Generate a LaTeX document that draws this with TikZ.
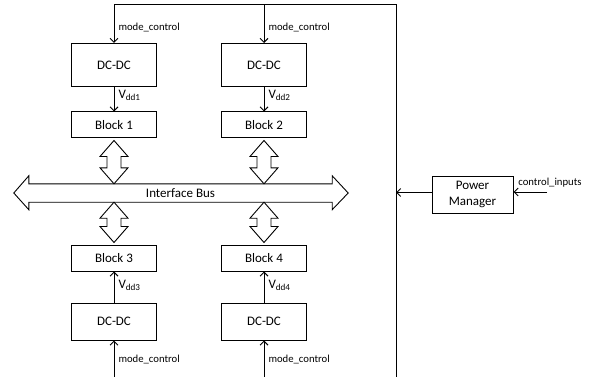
\documentclass[tikz,border=0pt]{standalone}
\usepackage{fontspec}
\setmainfont{Carlito}
\usetikzlibrary{calc,
	positioning,
	arrows,
	arrows.meta}
\tikzstyle{dcbox}=[draw, line width=1pt, minimum width=85pt, minimum height=43pt, inner sep=0, font=\fontsize{13}{15.5}\selectfont]
\tikzstyle{blkbox}=[draw, line width=1pt, minimum width=85pt, minimum height=26pt, inner sep=0, font=\fontsize{13}{15.5}\selectfont]
\tikzstyle{pmbox}=[draw, line width=1pt, minimum width=81pt, minimum height=37pt, inner sep=0, align=center, font=\fontsize{13}{15.5}\selectfont]
\tikzstyle{busbox}=[minimum width=303pt, minimum height=18pt, inner sep=0, font=\fontsize{13}{15.5}\selectfont]
\tikzstyle{wire}=[line width=1pt]
\tikzstyle{sig}=[line width=1pt, -{Straight Barb[length=4pt,width=8pt]}]
\tikzstyle{busline}=[line width=0.9pt, line join=miter]
\tikzstyle{lbl}=[inner sep=4pt, font=\fontsize{10.7}{12}\selectfont]
\tikzstyle{vdd}=[inner sep=4pt, font=\fontsize{13}{15}\selectfont]

\newcommand{\vdarrow}[2]{%
	\draw[busline] (#1) -- ($(#1)+(14pt,-16pt)$) -- ($(#1)+(7pt,-16pt)$)
		-- ($(#2)+(7pt,16pt)$) -- ($(#2)+(14pt,16pt)$) -- (#2)
		-- ($(#2)+(-14pt,16pt)$) -- ($(#2)+(-7pt,16pt)$)
		-- ($(#1)+(-7pt,-16pt)$) -- ($(#1)+(-14pt,-16pt)$) -- cycle;}

\begin{document}
\begin{tikzpicture}[x=1pt, y=-1pt]
	\useasboundingbox (0,0) rectangle (597,377);

	% converters and blocks
	\node[dcbox] (dc1) at (114,65) {DC-DC};
	\node[dcbox] (dc2) at (264,65) {DC-DC};
	\node[blkbox] (blk1) at (114,125) {Block 1};
	\node[blkbox] (blk2) at (264,125) {Block 2};
	\node[blkbox] (blk3) at (114,258) {Block 3};
	\node[blkbox] (blk4) at (264,258) {Block 4};
	\node[dcbox, minimum height=37pt] (dc3) at (114,321.5) {DC-DC};
	\node[dcbox, minimum height=37pt] (dc4) at (264,321.5) {DC-DC};
	\node[pmbox] (pm) at (472.5,194.5) {Power\\Manager};

	% interface bus
	\node[busbox] (bus) at (180.5,193) {Interface Bus};
	\draw[busline] (bus.north west) -- (bus.north east) -- ([yshift=8pt]bus.north east)
		-- ([xshift=16pt]bus.east) -- ([yshift=-7.5pt]bus.south east) -- (bus.south east)
		-- (bus.south west) -- ([yshift=-7.5pt]bus.south west) -- ([xshift=-15pt]bus.west)
		-- ([yshift=8pt]bus.north west) -- cycle;

	\coordinate (t1) at ([yshift=-2pt]blk1.south);
	\coordinate (t2) at ([yshift=-2pt]blk2.south);
	\coordinate (b3) at ([yshift=2pt]blk3.north);
	\coordinate (b4) at ([yshift=2pt]blk4.north);
	\vdarrow{t1}{bus.north -| t1}
	\vdarrow{t2}{bus.north -| t2}
	\vdarrow{bus.south -| b3}{b3}
	\vdarrow{bus.south -| b4}{b4}

	% supply
	\draw[sig] (dc1) -- (blk1) node[vdd, right, pos=0.35] {V\textsubscript{dd1}};
	\draw[sig] (dc2) -- (blk2) node[vdd, right, pos=0.35] {V\textsubscript{dd2}};
	\draw[sig] (dc3) -- (blk3) node[vdd, right, pos=0.55] {V\textsubscript{dd3}};
	\draw[sig] (dc4) -- (blk4) node[vdd, right, pos=0.55] {V\textsubscript{dd4}};

	% mode control rail
	\coordinate (railtop) at (396,5);
	\coordinate (railbot) at (396,379);
	\draw[wire] (dc1.north |- railtop) -- (railtop) -- (railbot);
	\draw[sig] (dc1.north |- railtop) -- (dc1.north) node[lbl, right, pos=0.58] {mode\_control};
	\draw[sig] (dc2.north |- railtop) -- (dc2.north) node[lbl, right, pos=0.58] {mode\_control};
	\draw[sig] (dc3.south |- railbot) -- (dc3.south) node[lbl, right, pos=0.5] {mode\_control};
	\draw[sig] (dc4.south |- railbot) -- (dc4.south) node[lbl, right, pos=0.5] {mode\_control};

	% power manager
	\coordinate (cin) at (547,192);
	\draw[sig] ([yshift=2pt]pm.west) -- ([yshift=2pt]pm.west -| railtop);
	\draw[sig] (cin) -- (cin -| pm.east) node[lbl, pos=0, above, xshift=3pt, inner sep=2pt, yshift=2pt] {control\_inputs};
\end{tikzpicture}
\end{document}
